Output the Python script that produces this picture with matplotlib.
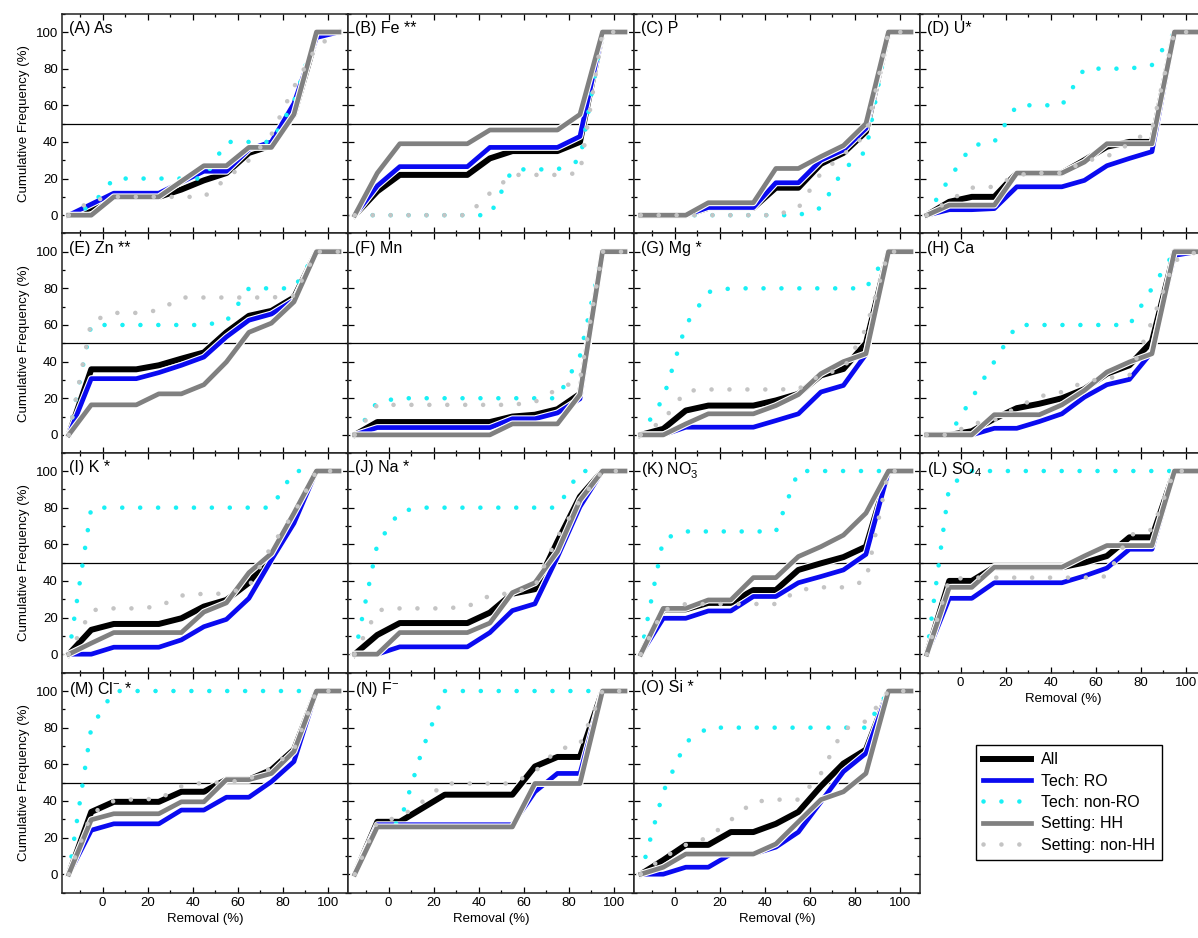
import matplotlib
matplotlib.use('Agg')
import matplotlib.pyplot as plt
import matplotlib.patheffects as pe
from matplotlib.ticker import MultipleLocator

plt.rcParams['font.family'] = ['Liberation Sans', 'DejaVu Sans']
plt.rcParams['mathtext.default'] = 'regular'

# removal bins (%)
removal = [-15, -5, 5, 15, 25, 35, 45, 55, 65, 75, 85, 95, 105]

titles = ['(A) As', '(B) Fe **', '(C) P', '(D) U*',
          '(E) Zn **', '(F) Mn', '(G) Mg *', '(H) Ca',
          '(I) K *', '(J) Na *', '(K) NO$_3^{-}$', '(L) SO$_4$',
          '(M) Cl$^{-}$ *', '(N) F$^{-}$', '(O) Si *']

# cumulative frequency (%) per panel, one row per analyte
all_cf = [
    [0, 4, 10, 10, 10, 14, 19, 23, 34, 38, 55, 98, 100],
    [0, 13, 22, 22, 22, 22, 31, 35, 35, 35, 40, 100, 100],
    [0, 0, 0, 4, 4, 4, 15, 15, 28, 34, 45.6, 100, 100],
    [0, 7.3, 10, 10, 23, 23, 23, 30, 37.4, 40, 40, 100, 100],
    [0, 35.8, 35.8, 35.8, 38, 41.6, 45, 56, 65, 67.7, 75, 100, 100],
    [0, 7, 7, 7, 7, 7, 7, 10, 11, 14, 22.4, 100, 100],
    [0, 3.3, 13.3, 16, 16, 16, 18.8, 22.4, 32.5, 36, 50, 100, 100],
    [0, 0, 2, 8.8, 14.6, 17, 20, 25, 33.4, 38, 51, 100, 100],
    [0, 13.3, 16.5, 16.5, 16.5, 19.6, 26, 29.6, 39, 55, 74, 100, 100],
    [0, 10.5, 17, 17, 17, 17, 22.7, 33, 35.5, 61.5, 86, 100, 100],
    [0, 24.5, 24.5, 28, 28, 35, 35, 46, 49.6, 53, 58.7, 100, 100],
    [0, 40, 40, 47.5, 47.5, 47.5, 47.5, 50, 53.6, 63.8, 63.8, 100, 100],
    [0, 34, 39.5, 39.5, 39.5, 45, 45, 51.6, 51.6, 57, 68, 100, 100],
    [0, 28.6, 28.6, 36, 43.4, 43.4, 43.4, 43.4, 58.8, 64, 64, 100, 100],
    [0, 7.7, 16, 16, 23, 23, 27.5, 34, 48, 60.4, 68, 100, 100],
]
ro_cf = [
    [0, 6, 12, 12, 12, 18, 24, 24, 36, 40, 61, 97, 100],
    [0, 16, 26.5, 26.5, 26.5, 26.5, 37, 37, 37, 37, 43, 100, 100],
    [0, 0, 0, 4.2, 4.2, 4.2, 17.7, 17.7, 30, 35.6, 47.4, 100, 100],
    [0, 3, 3, 3.6, 15.5, 15.5, 15.5, 19, 27, 31, 34.7, 100, 100],
    [0, 30.7, 30.7, 30.7, 34, 38, 42.5, 53.5, 62.6, 66, 73.5, 100, 100],
    [0, 4, 4, 4, 4, 4, 4, 8.8, 8.8, 12, 19.7, 100, 100],
    [0, 0, 4.2, 4.2, 4.2, 4.2, 7.8, 11.5, 23.4, 27, 44, 100, 100],
    [0, 0, 0, 3.6, 3.6, 7.3, 11.5, 20.6, 27.4, 30.3, 45.3, 98, 100],
    [0, 0, 3.8, 3.8, 3.8, 7.8, 15, 19, 30.5, 51.5, 71.5, 100, 100],
    [0, 0, 4, 4, 4, 4, 11.8, 23.8, 27.5, 53, 80.5, 100, 100],
    [0, 19.6, 19.6, 23.6, 23.6, 31.5, 31.5, 39, 42.4, 46, 54.5, 100, 100],
    [0, 30.5, 30.5, 39, 39, 39, 39, 42.7, 47, 57.3, 57.3, 100, 100],
    [0, 24, 27.5, 27.5, 27.5, 35, 35, 42, 42, 50.5, 61.5, 100, 100],
    [0, 27, 27, 27, 27, 27, 27, 27, 45, 55, 55, 100, 100],
    [0, 0, 3.8, 3.8, 11, 11, 14.8, 23, 39.5, 56, 66, 100, 100],
]
nonro_cf = [
    [0, 5, 20, 20, 20, 20, 20, 40, 40, 40, 62, 100, 100],
    [0, 0, 0, 0, 0, 0, 0, 25, 25, 25, 30, 100, 100],
    [0, 0, 0, 0, 0, 0, 0, 0, 4, 25, 35, 100, 100],
    [0, 20, 38, 40, 60, 60, 60, 80, 80, 80, 82, 100, 100],
    [0, 60, 60, 60, 60, 60, 60, 62, 80, 80, 80, 100, 100],
    [0, 18, 20, 20, 20, 20, 20, 20, 20, 20, 43, 100, 100],
    [0, 20, 60, 78, 80, 80, 80, 80, 80, 80, 80, 100, 100],
    [0, 0, 20, 40, 60, 60, 60, 60, 60, 60, 80, 100, 100],
    [0, 80, 80, 80, 80, 80, 80, 80, 80, 80, 100, 100, 100],
    [0, 60, 78, 80, 80, 80, 80, 80, 80, 80, 100, 100, 100],
    [0, 63, 67, 67, 67, 67, 67, 100, 100, 100, 100, 100, 100],
    [0, 92, 100, 100, 100, 100, 100, 100, 100, 100, 100, 100, 100],
    [0, 80, 100, 100, 100, 100, 100, 100, 100, 100, 100, 100, 100],
    [0, 26, 28, 68, 100, 100, 100, 100, 100, 100, 100, 100, 100],
    [0, 45, 72, 80, 80, 80, 80, 80, 80, 80, 80, 100, 100],
]
hh_cf = [
    [0, 0, 10, 10, 10, 18.5, 27, 27, 37, 37, 55, 100, 100],
    [0, 23, 39, 39, 39, 39, 46.5, 46.5, 46.5, 46.5, 55, 100, 100],
    [0, 0, 0, 6.8, 6.8, 6.8, 25.5, 25.5, 32, 38, 50, 100, 100],
    [0, 5.5, 5.5, 5.5, 23, 23, 23, 29, 39, 39, 39, 100, 100],
    [0, 16.4, 16.4, 16.4, 22.4, 22.4, 27.4, 39.8, 56, 61, 72.6, 100, 100],
    [0, 0, 0, 0, 0, 0, 0, 6, 6, 6, 22, 100, 100],
    [0, 0, 6, 11.5, 11.5, 11.5, 16, 22, 33.4, 40, 44.3, 100, 100],
    [0, 0, 0, 11, 11, 11, 16.4, 24.3, 34.3, 39.8, 44.3, 100, 100],
    [0, 6, 11.8, 11.8, 11.8, 11.8, 23, 28, 44.5, 55, 77, 100, 100],
    [0, 0, 11.8, 11.8, 11.8, 11.8, 17, 33.6, 39, 56, 84, 100, 100],
    [0, 25, 25, 29.6, 29.6, 41.8, 41.8, 53.3, 58.7, 65, 77, 100, 100],
    [0, 36.5, 36.5, 47.5, 47.5, 47.5, 47.5, 53.6, 59.3, 59.3, 59.3, 100, 100],
    [0, 29.7, 33, 33, 33, 39.5, 39.5, 51.6, 51.6, 55, 67, 100, 100],
    [0, 25.8, 25.8, 25.8, 25.8, 25.8, 25.8, 25.8, 49.5, 49.5, 49.5, 100, 100],
    [0, 3.8, 11, 11, 11, 11, 16.5, 28.6, 40.7, 45, 55, 100, 100],
]
nonhh_cf = [
    [0, 8, 10, 10, 10, 10, 10, 20, 30, 44, 70, 92, 100],
    [0, 0, 0, 0, 0, 0, 12, 22, 22, 22, 23, 100, 100],
    [0, 0, 0, 0, 0, 0, 0, 4, 23, 33, 44, 100, 100],
    [0, 8, 15, 15.5, 22, 23, 23, 29.5, 32, 39, 47, 100, 100],
    [0, 62, 66.6, 66.6, 68, 75, 75, 75, 75, 75, 76, 100, 100],
    [0, 16.4, 16.4, 16.4, 16.4, 16.4, 16.4, 16.4, 18, 25, 30, 100, 100],
    [0, 8, 24, 24.8, 24.8, 24.8, 24.8, 25, 33, 36, 58, 100, 100],
    [0, 0, 6, 8, 15, 21, 23.4, 29, 31, 32.5, 62, 95, 100],
    [0, 24, 25, 25, 26, 32, 33, 33, 37, 59, 77, 100, 100],
    [0, 24, 25, 25, 25, 26, 32, 33.5, 37, 64, 84, 100, 100],
    [0, 24, 27.4, 27.4, 27.4, 27.4, 27.4, 35, 36.5, 36.5, 40, 100, 100],
    [0, 41, 41.8, 41.8, 41.8, 41.8, 41.8, 41.8, 42.5, 65, 68, 100, 100],
    [0, 33, 40, 41, 41, 48, 50, 50, 52, 58, 68, 100, 100],
    [0, 28.6, 31, 39.5, 49.5, 49.5, 49.5, 49.5, 56, 68, 71, 100, 100],
    [0, 9, 16, 20, 29.6, 39.5, 40.7, 40.7, 55, 79, 83.5, 100, 100],
]


def outline(lw):
    return [pe.Stroke(linewidth=lw + 1.6, foreground='white'), pe.Normal()]


dots = (0, (0.01, 3.9))
styles = [
    dict(color='black', lw=4.3, label='All', path_effects=outline(4.3)),
    dict(color='#0a0af0', lw=3.4, label='Tech: RO', path_effects=outline(3.4)),
    dict(color='#19f0f5', lw=3.3, ls=dots, dash_capstyle='round', label='Tech: non-RO'),
    dict(color='#808080', lw=3.4, label='Setting: HH', path_effects=outline(3.4)),
    dict(color='#c4c4c4', lw=3.3, ls=dots, dash_capstyle='round', label='Setting: non-HH'),
]
series = [all_cf, ro_cf, nonro_cf, hh_cf, nonhh_cf]

fig = plt.figure(figsize=(11.98, 9.38), dpi=100)
W, H = 1198.0, 938.0
lefts = [62, 348, 634, 920]
tops = [13.7, 233.4, 452.7, 672.7]
pw, ph = 286, 219.8

for k in range(15):
    r, c = divmod(k, 4)
    ax = fig.add_axes([lefts[c] / W, 1 - (tops[r] + ph) / H, pw / W, ph / H])
    ax.axhline(50, color='black', lw=0.9, zorder=1)
    for vals, st in zip(series, styles):
        ax.plot(removal, vals[k], **st)
    ax.set_xlim(-18, 109)
    ax.set_ylim(-10, 110)
    ax.xaxis.set_major_locator(MultipleLocator(20))
    ax.xaxis.set_minor_locator(MultipleLocator(10))
    ax.yaxis.set_major_locator(MultipleLocator(20))
    ax.yaxis.set_minor_locator(MultipleLocator(10))
    ax.set_xticks([0, 20, 40, 60, 80, 100])
    ax.tick_params(which='both', direction='in', top=True, right=True,
                   labelsize=9.5, pad=3)
    ax.tick_params(which='major', length=4.5, width=0.9)
    ax.tick_params(which='minor', length=2.5, width=0.9)
    for sp in ax.spines.values():
        sp.set_linewidth(1.1)
        sp.set_color('#222222')
    ax.text(0.025, 0.965, titles[k], transform=ax.transAxes, ha='left', va='top',
            fontsize=11.5)
    if c == 0:
        ax.set_ylabel('Cumulative Frequency (%)', fontsize=9.5, labelpad=4)
    else:
        ax.tick_params(labelleft=False)
    if r == 3 or k == 11:
        ax.set_xlabel('Removal (%)', fontsize=9.5, labelpad=3)
    else:
        ax.tick_params(labelbottom=False)

handles, labels = ax.get_legend_handles_labels()
fig.legend(handles, labels, loc='upper left', bbox_to_anchor=(968 / W, 1 - 737 / H),
           fontsize=11.5, handlelength=3.0, frameon=True, fancybox=False,
           edgecolor='black', framealpha=1, borderpad=0.45, labelspacing=0.4,
           handletextpad=0.6)

plt.savefig('out.png', dpi=100)
